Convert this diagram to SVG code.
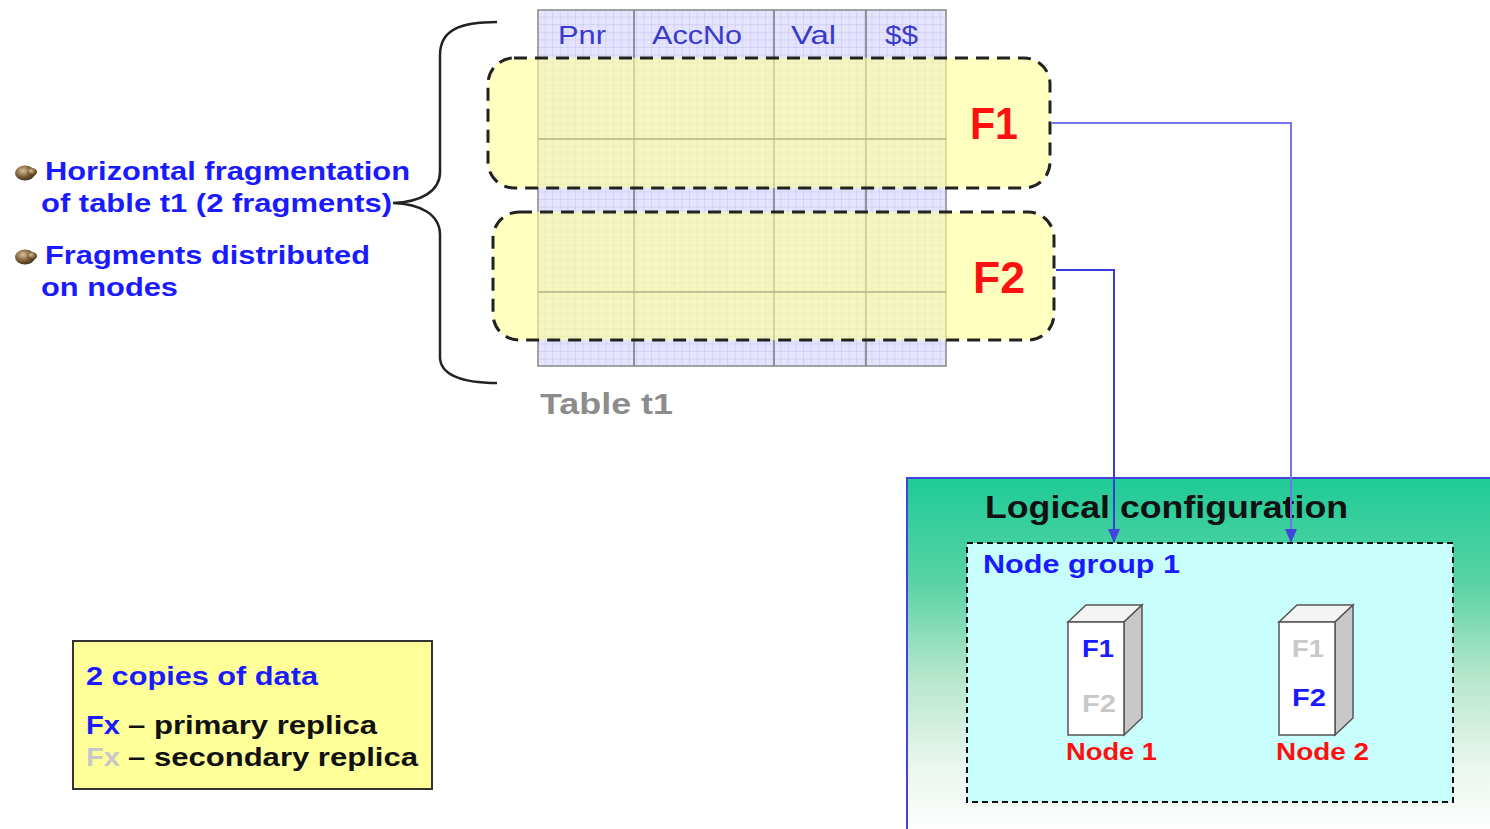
<svg xmlns="http://www.w3.org/2000/svg" width="1490" height="829" viewBox="0 0 1490 829">
<defs>
<pattern id="grid" x="538" y="10" width="7.6" height="7.6" patternUnits="userSpaceOnUse">
<rect width="7.6" height="7.6" fill="#e4e4ff"/>
<path d="M7.6 0V7.6M0 7.6H7.6" stroke="#bcbce8" stroke-width="0.9" fill="none"/>
</pattern>
<linearGradient id="lgc" x1="0" y1="0" x2="0" y2="1">
<stop offset="0" stop-color="#1ecb96"/>
<stop offset="0.3" stop-color="#5cd3a6"/>
<stop offset="0.55" stop-color="#b5e6cc"/>
<stop offset="0.8" stop-color="#eaf6ee"/>
<stop offset="1" stop-color="#ffffff"/>
</linearGradient>
<radialGradient id="bul" cx="0.4" cy="0.35" r="0.7">
<stop offset="0" stop-color="#d8c09a"/>
<stop offset="0.5" stop-color="#8a6a40"/>
<stop offset="1" stop-color="#3a2a18"/>
</radialGradient>
<marker id="arr2" markerWidth="14" markerHeight="12" refX="13" refY="6" orient="auto" markerUnits="userSpaceOnUse">
<path d="M0 0L14 6L0 12Z" fill="#4444dd"/>
</marker>
</defs>
<style>
.t{font-family:"Liberation Sans",Arial,sans-serif;font-weight:bold}
.r{font-family:"Liberation Sans",Arial,sans-serif}
.blue{fill:#1a1aff}
.hdr{fill:#3a3acc;font-size:25px}
.red{fill:#ff1010}
.gray{fill:#c8c8c8}
.col{stroke:#777;stroke-width:1.5}
.frag{fill:#ffff99;fill-opacity:0.62;stroke:#222;stroke-width:3;stroke-dasharray:13 8}
.row{stroke:#b8b08a;stroke-width:1.5}
.conn{fill:none;stroke-width:2}
</style>

<g id="brace">
<path d="M497 22C460 22 440 30 440 55V172C440 192 420 202 393 203C420 204 440 214 440 235V357C440 374 460 383 497 383" fill="none" stroke="#222" stroke-width="2.5"/>
</g>

<g id="bullets">
<ellipse cx="25" cy="173" rx="10" ry="7.5" fill="url(#bul)"/>
<ellipse cx="32" cy="172" rx="5" ry="4" fill="url(#bul)"/>
<ellipse cx="25" cy="257" rx="10" ry="7.5" fill="url(#bul)"/>
<ellipse cx="32" cy="256" rx="5" ry="4" fill="url(#bul)"/>
</g>

<g id="left-text">
<text class="t blue" x="45" y="180" font-size="26" textLength="365" lengthAdjust="spacingAndGlyphs">Horizontal fragmentation</text>
<text class="t blue" x="41" y="212" font-size="26" textLength="351" lengthAdjust="spacingAndGlyphs">of table t1 (2 fragments)</text>
<text class="t blue" x="45" y="264" font-size="26" textLength="325" lengthAdjust="spacingAndGlyphs">Fragments distributed</text>
<text class="t blue" x="41" y="296" font-size="26" textLength="137" lengthAdjust="spacingAndGlyphs">on nodes</text>
</g>

<g id="table-t1">
<rect x="538" y="10" width="408" height="356" fill="url(#grid)" stroke="#888" stroke-width="1.5"/>
<line class="col" x1="634" y1="10" x2="634" y2="366"/>
<line class="col" x1="774" y1="10" x2="774" y2="366"/>
<line class="col" x1="866" y1="10" x2="866" y2="366"/>
<text class="r hdr" x="558" y="44" textLength="48" lengthAdjust="spacingAndGlyphs">Pnr</text>
<text class="r hdr" x="652" y="44" textLength="90" lengthAdjust="spacingAndGlyphs">AccNo</text>
<text class="r hdr" x="791" y="44" textLength="45" lengthAdjust="spacingAndGlyphs">Val</text>
<text class="r hdr" x="885" y="44" textLength="33" lengthAdjust="spacingAndGlyphs">$$</text>
<text class="t" x="540" y="414" font-size="30" fill="#8c8c8c" textLength="133" lengthAdjust="spacingAndGlyphs">Table t1</text>
</g>

<g id="F1">
<rect class="frag" x="488" y="58" width="562" height="130" rx="26"/>
<line class="row" x1="538" y1="139" x2="946" y2="139"/>
<text class="t red" x="970" y="139" font-size="44" textLength="48" lengthAdjust="spacingAndGlyphs">F1</text>
</g>

<g id="F2">
<rect class="frag" x="493" y="212" width="561" height="128" rx="26"/>
<line class="row" x1="538" y1="292" x2="946" y2="292"/>
<text class="t red" x="973" y="293" font-size="44" textLength="52" lengthAdjust="spacingAndGlyphs">F2</text>
</g>

<g id="logical-configuration">
<rect x="907" y="478" width="600" height="360" fill="url(#lgc)"/>
<path d="M907 829V478H1490" fill="none" stroke="#4444dd" stroke-width="2"/>
<text class="t" x="985" y="518" font-size="32" fill="#111" textLength="363" lengthAdjust="spacingAndGlyphs">Logical configuration</text>
</g>

<g id="node-group-1">
<rect x="967" y="543" width="486" height="259" fill="#c8fefb" stroke="#111" stroke-width="2" stroke-dasharray="6 4"/>
<text class="t blue" x="983" y="573" font-size="26" textLength="197" lengthAdjust="spacingAndGlyphs">Node group 1</text>
</g>

<g id="node-1">
<path d="M1068 622L1086 605H1142L1124 622Z" fill="#f4f4f4" stroke="#555" stroke-width="1.5"/>
<path d="M1124 622L1142 605V718L1124 735Z" fill="#c8c8c8" stroke="#555" stroke-width="1.5"/>
<rect x="1068" y="622" width="56" height="113" fill="#ffffff" stroke="#555" stroke-width="1.5"/>
<text class="t blue" x="1082" y="657" font-size="24" textLength="32" lengthAdjust="spacingAndGlyphs">F1</text>
<text class="t gray" x="1082" y="712" font-size="24" textLength="34" lengthAdjust="spacingAndGlyphs">F2</text>
<text class="t red" x="1066" y="760" font-size="24" textLength="91" lengthAdjust="spacingAndGlyphs">Node 1</text>
</g>

<g id="node-2">
<path d="M1279 622L1297 605H1353L1335 622Z" fill="#f4f4f4" stroke="#555" stroke-width="1.5"/>
<path d="M1335 622L1353 605V718L1335 735Z" fill="#c8c8c8" stroke="#555" stroke-width="1.5"/>
<rect x="1279" y="622" width="56" height="113" fill="#ffffff" stroke="#555" stroke-width="1.5"/>
<text class="t gray" x="1292" y="657" font-size="24" textLength="32" lengthAdjust="spacingAndGlyphs">F1</text>
<text class="t blue" x="1292" y="706" font-size="24" textLength="34" lengthAdjust="spacingAndGlyphs">F2</text>
<text class="t red" x="1276" y="760" font-size="24" textLength="93" lengthAdjust="spacingAndGlyphs">Node 2</text>
</g>

<g id="legend">
<rect x="73" y="641" width="359" height="148" fill="#ffff99" stroke="#333" stroke-width="2"/>
<text class="t blue" x="86" y="685" font-size="25" textLength="232" lengthAdjust="spacingAndGlyphs">2 copies of data</text>
<text class="t blue" x="86" y="734" font-size="25" textLength="34" lengthAdjust="spacingAndGlyphs">Fx</text>
<text class="t" x="128" y="734" font-size="25" fill="#111" textLength="249" lengthAdjust="spacingAndGlyphs">– primary replica</text>
<text class="t gray" x="86" y="766" font-size="25" textLength="34" lengthAdjust="spacingAndGlyphs">Fx</text>
<text class="t" x="128" y="766" font-size="25" fill="#111" textLength="290" lengthAdjust="spacingAndGlyphs">– secondary replica</text>
</g>

<g id="connectors">
<path class="conn" d="M1052 123H1291V542" stroke="#7474ea" marker-end="url(#arr2)"/>
<path class="conn" d="M1056 270H1114V542" stroke="#3a3adc" marker-end="url(#arr2)"/>
</g>
</svg>
